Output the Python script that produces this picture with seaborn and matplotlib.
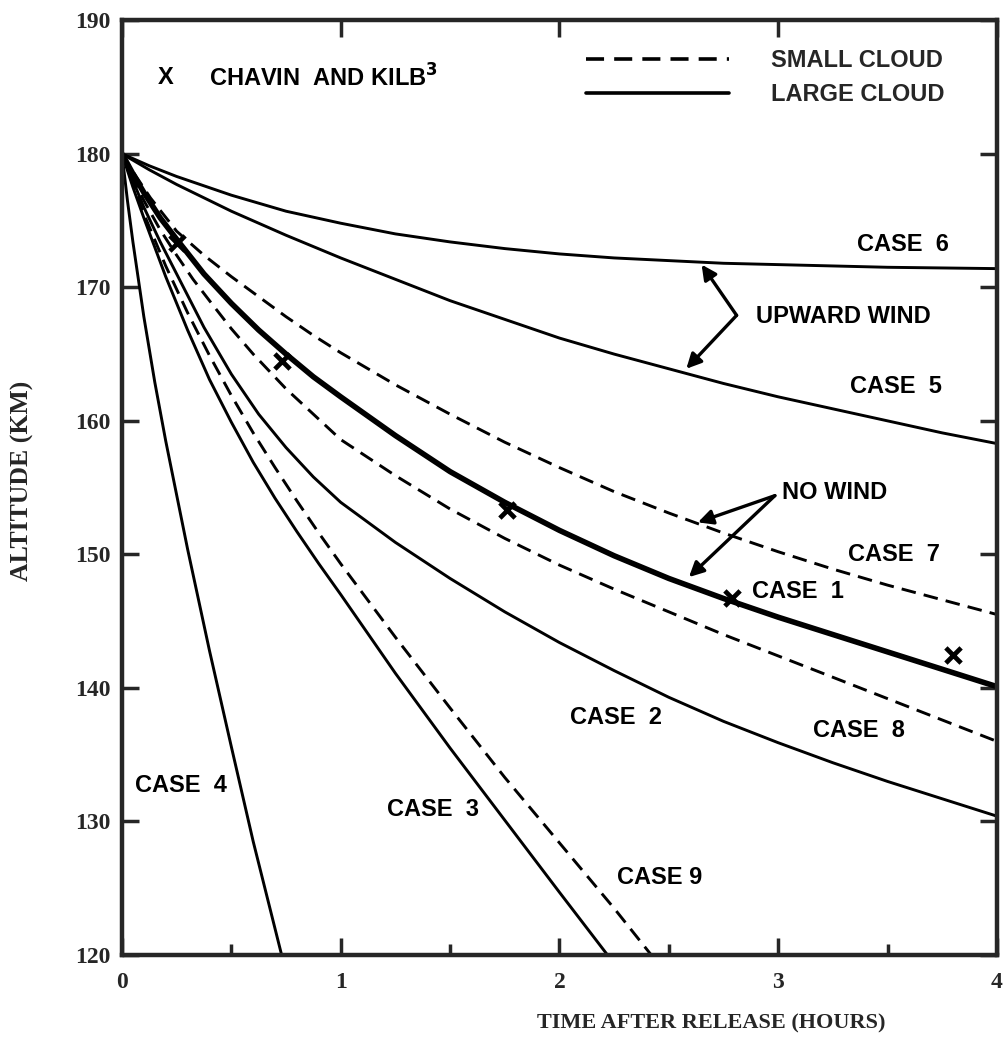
import numpy as np
import pandas as pd
import seaborn as sns
import matplotlib.pyplot as plt
from matplotlib.lines import Line2D

# altitude curves (time in hours, altitude in km)
case1_t = [0, 0.05, 0.1, 0.175, 0.25, 0.375, 0.5, 0.625, 0.75, 0.875, 1, 1.25, 1.5, 1.75,
           2, 2.25, 2.5, 2.75, 3, 3.25, 3.5, 3.75, 4]
case1_h = [180, 178.5, 177.1, 175.2, 173.6, 171.0, 168.8, 166.8, 165.0, 163.3, 161.8, 158.9,
           156.2, 153.9, 151.8, 149.9, 148.2, 146.7, 145.3, 144.0, 142.7, 141.4, 140.1]

case2_t = [0, 0.05, 0.1, 0.175, 0.25, 0.375, 0.5, 0.625, 0.75, 0.875, 1, 1.25, 1.5, 1.75,
           2, 2.25, 2.5, 2.75, 3, 3.25, 3.5, 3.75, 4]
case2_h = [180, 178.0, 176.0, 173.4, 171.0, 167.0, 163.5, 160.5, 158.0, 155.8, 153.9, 150.9,
           148.2, 145.7, 143.4, 141.3, 139.3, 137.5, 135.9, 134.4, 133.0, 131.7, 130.4]

case3_t = [0, 0.05, 0.1, 0.2, 0.3, 0.4, 0.5, 0.6, 0.7, 0.8, 0.9, 1, 1.25, 1.5, 1.75, 2, 2.22]
case3_h = [180, 177.5, 175.2, 170.8, 166.8, 163.1, 159.9, 156.9, 154.2, 151.7, 149.3, 147.0,
           141.1, 135.5, 130.1, 124.7, 120.0]

case4_t = [0, 0.025, 0.05, 0.1, 0.15, 0.2, 0.3, 0.4, 0.5, 0.6, 0.73]
case4_h = [180, 176.5, 173.4, 167.8, 162.9, 158.5, 150.4, 142.8, 135.6, 128.5, 120.0]

case5_t = [0, 0.125, 0.25, 0.5, 0.75, 1, 1.25, 1.5, 1.75, 2, 2.25, 2.5, 2.75, 3, 3.25, 3.5, 3.75, 4]
case5_h = [180, 178.8, 177.7, 175.7, 173.9, 172.2, 170.6, 169.0, 167.6, 166.2, 165.0, 163.9,
           162.8, 161.8, 160.9, 160.0, 159.1, 158.3]

case6_t = [0, 0.125, 0.25, 0.5, 0.75, 1, 1.25, 1.5, 1.75, 2, 2.25, 2.5, 2.75, 3, 3.25, 3.5, 3.75, 4]
case6_h = [180, 179.1, 178.3, 176.9, 175.7, 174.8, 174.0, 173.4, 172.9, 172.5, 172.2, 172.0,
           171.8, 171.7, 171.6, 171.5, 171.45, 171.4]

case7_t = [0, 0.065, 0.13, 0.25, 0.375, 0.5, 0.625, 0.75, 0.875, 1, 1.25, 1.5, 1.75, 2, 2.25,
           2.5, 2.75, 3, 3.25, 3.5, 3.75, 4]
case7_h = [180, 178.3, 176.7, 174.2, 172.4, 170.8, 169.3, 167.8, 166.4, 165.1, 162.7, 160.5,
           158.4, 156.5, 154.7, 153.1, 151.6, 150.2, 148.9, 147.7, 146.6, 145.5]

case8_t = [0, 0.05, 0.1, 0.175, 0.25, 0.325, 0.4, 0.5, 0.6, 0.75, 0.875, 1, 1.25, 1.5, 1.75,
           2, 2.25, 2.5, 2.75, 3, 3.25, 3.5, 3.75, 4]
case8_h = [180, 178.2, 176.5, 174.3, 172.4, 170.6, 169.0, 166.9, 165.0, 162.4, 160.5, 158.6,
           155.9, 153.4, 151.2, 149.2, 147.4, 145.7, 144.0, 142.4, 140.8, 139.2, 137.6, 136.0]

case9_t = [0, 0.05, 0.1, 0.2, 0.3, 0.4, 0.5, 0.6, 0.7, 0.8, 0.9, 1, 1.25, 1.5, 1.75, 2, 2.25, 2.42]
case9_h = [180, 177.7, 175.5, 171.6, 168.1, 164.9, 161.9, 159.1, 156.5, 154.0, 151.6, 149.3,
           143.8, 138.5, 133.3, 128.4, 123.5, 120.0]

# Chavin and Kilb points
ck_t = [0.25, 0.73, 1.76, 2.79, 3.80]
ck_h = [173.3, 164.5, 153.3, 146.7, 142.5]

curves = {
    'CASE 1': (case1_t, case1_h, '-', 4.0),
    'CASE 2': (case2_t, case2_h, '-', 2.1),
    'CASE 3': (case3_t, case3_h, '-', 2.1),
    'CASE 4': (case4_t, case4_h, '-', 2.1),
    'CASE 5': (case5_t, case5_h, '-', 2.1),
    'CASE 6': (case6_t, case6_h, '-', 2.1),
    'CASE 7': (case7_t, case7_h, '--', 2.1),
    'CASE 8': (case8_t, case8_h, '--', 2.1),
    'CASE 9': (case9_t, case9_h, '--', 2.1),
}
dash = (0, (5, 2.8))

sns.set_style("ticks")
plt.rcParams['font.family'] = ['Liberation Serif', 'DejaVu Serif']
plt.rcParams['font.weight'] = 'bold'

fig = plt.figure(figsize=(10.08, 10.48), dpi=100)
ax = fig.add_axes([0.121, 0.0887, 0.868, 0.892])

for name, (t, h, ls, lw) in curves.items():
    df = pd.DataFrame({'t': t, 'h': h})
    sns.lineplot(data=df, x='t', y='h', ax=ax, color='black', linewidth=lw,
                 sort=False, estimator=None)
    ax.lines[-1].set_linestyle(dash if ls == '--' else '-')
    ax.lines[-1].set_solid_capstyle('butt')

sns.scatterplot(x=ck_t, y=ck_h, ax=ax, marker='x', s=120, color='black',
                linewidth=3.4, zorder=5)

ax.set_xlim(0, 4)
ax.set_ylim(120, 190)
ax.set_xticks([0, 1, 2, 3, 4])
ax.set_xticks([0.5, 1.5, 2.5, 3.5], minor=True)
ax.set_yticks(np.arange(120, 191, 10))
ax.tick_params(axis='both', which='major', direction='in', length=12, width=2.5,
               top=True, right=True, labelsize=17, pad=8)
ax.tick_params(axis='x', which='major', pad=12)
ax.tick_params(axis='x', which='minor', direction='in', length=8, width=2.5,
               top=False, bottom=True)
for s in ax.spines.values():
    s.set_linewidth(3.2)
for lab in ax.get_xticklabels() + ax.get_yticklabels():
    lab.set_fontweight('bold')

ax.set_xlabel('TIME AFTER RELEASE (HOURS)', fontsize=16, fontweight='bold')
ax.xaxis.set_label_coords(0.673, -0.062)
ax.set_ylabel('ALTITUDE (KM)', fontsize=18.5, fontweight='bold')
ax.yaxis.set_label_coords(-0.101, 0.507)

sans = ['Liberation Sans', 'DejaVu Sans']
lab_kw = dict(fontsize=17, fontweight='bold', family=sans, color='black')

ax.text(0.2, 185.7, 'X', ha='center', va='center', **lab_kw)
ax.text(0.4, 185.7, 'CHAVIN  AND KILB$^{\\mathbf{3}}$', ha='left', va='center', **lab_kw)

ax.text(3.57, 173.2, 'CASE  6', ha='center', va='center', **lab_kw)
ax.text(3.30, 167.8, 'UPWARD WIND', ha='center', va='center', **lab_kw)
ax.text(3.54, 162.6, 'CASE  5', ha='center', va='center', **lab_kw)
ax.text(3.26, 154.6, 'NO WIND', ha='center', va='center', **lab_kw)
ax.text(3.53, 150.0, 'CASE  7', ha='center', va='center', **lab_kw)
ax.text(3.09, 147.2, 'CASE  1', ha='center', va='center', **lab_kw)
ax.text(2.26, 137.8, 'CASE  2', ha='center', va='center', **lab_kw)
ax.text(3.37, 136.8, 'CASE  8', ha='center', va='center', **lab_kw)
ax.text(0.27, 132.7, 'CASE  4', ha='center', va='center', **lab_kw)
ax.text(1.42, 130.9, 'CASE  3', ha='center', va='center', **lab_kw)
ax.text(2.46, 125.8, 'CASE 9', ha='center', va='center', **lab_kw)

# pointer arrows
arrow_kw = dict(arrowstyle='-|>', color='black', lw=2.4, mutation_scale=22, shrinkA=0, shrinkB=0)
ax.annotate('', xy=(2.65, 171.7), xytext=(2.81, 167.9), arrowprops=arrow_kw)
ax.annotate('', xy=(2.58, 163.9), xytext=(2.81, 167.9), arrowprops=arrow_kw)
ax.annotate('', xy=(2.633, 152.4), xytext=(2.985, 154.4), arrowprops=arrow_kw)
ax.annotate('', xy=(2.592, 148.3), xytext=(2.985, 154.4), arrowprops=arrow_kw)

handles = [Line2D([], [], color='black', lw=2.6, linestyle=dash),
           Line2D([], [], color='black', lw=2.6)]
leg = ax.legend(handles, ['SMALL CLOUD', 'LARGE CLOUD'], loc='upper right',
                bbox_to_anchor=(0.951, 0.979), frameon=False, handlelength=6.05,
                handletextpad=1.8, labelspacing=0.45, borderaxespad=0,
                prop={'family': sans, 'weight': 'bold', 'size': 17})

fig.savefig('out.png', dpi=100)
